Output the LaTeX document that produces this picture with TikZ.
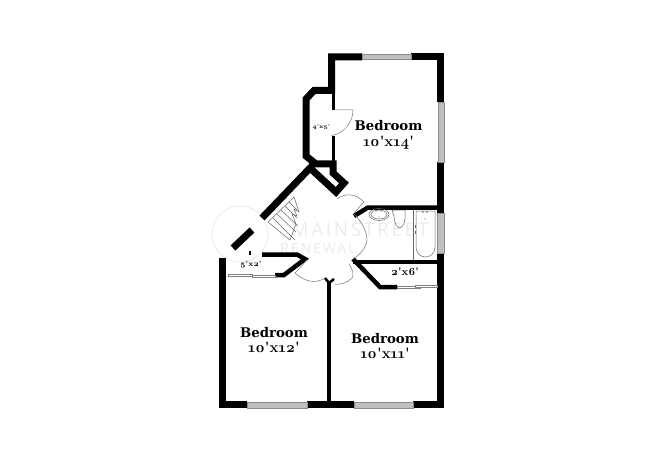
\documentclass[tikz,border=0pt]{standalone}
\usepackage{fontspec}
\newfontfamily\brandfont{Open Sans}[LetterSpace=14]
\newfontfamily\labelfont{DejaVu Serif}
\newfontfamily\sizefont{Latin Modern Roman}[Numbers=OldStyle]
\newcommand{\sq}{\textquotesingle}
\tikzset{
  wall/.style={line width=7pt,black},
  midwall/.style={line width=4.5pt,black},
  thinwall/.style={line width=3pt,black},
  swing/.style={line width=0.5pt,black!55},
  fixture/.style={line width=0.5pt,black!60},
  pane/.style={draw=black!45,fill=black!25,line width=0.6pt},
  slider/.style={draw=black!50,fill=white,line width=0.6pt},
  roomlabel/.style={align=center,font=\bfseries\fontsize{13.3}{15.5}\labelfont},
  faint/.style={black!8,font=\brandfont\fontsize{19}{19}\selectfont}
}
\newcommand{\roomsize}[1]{{\sizefont\bfseries\fontsize{15}{15.5}\selectfont #1}}
\begin{document}
\begin{tikzpicture}[x=1pt,y=-1pt]
\useasboundingbox (0,0) rectangle (650,473);
% watermark
\draw[black!7,line width=1pt] (240,234) circle (28);
\node[faint] (brand) at (360,229.5) {MAINSTREET};
\node[faint,font=\brandfont\fontsize{14}{14}\selectfont] (brandsub) at (318,248) {RENEWAL};
% outer walls
\draw[wall] (362,57) -- (331.5,57) -- (331.5,90.5) -- (314,90.5) -- (306,99) -- (306,156) -- (316,164) -- (333,164) -- (333,173) -- (344,183) -- (336,192) -- (310,168) -- (262,218);
\draw[wall] (411,57) -- (440.5,57) -- (440.5,102);
\draw[wall] (440.5,162) -- (440.5,213);
\draw[wall] (440.5,253) -- (440.5,408);
\draw[wall] (252,230) -- (233,248);
\draw[wall] (222.5,258) -- (222.5,404.5) -- (247,404.5);
\draw[wall] (307,404.5) -- (354,404.5);
\draw[wall] (413,404.5) -- (440.5,404.5);
% inner walls
\draw[thinwall] (333.5,90) -- (333.5,110);
\draw[thinwall] (333.5,136) -- (333.5,164);
\draw[midwall] (329,281) -- (329,404);
\draw[midwall] (440,207.5) -- (368,207.5) -- (354,216);
\draw[midwall] (440,262) -- (353,262);
\draw[midwall] (353,259) -- (380,287) -- (397,287);
\draw[midwall] (262,254.5) -- (297,254.5) -- (305,259) -- (284,275) -- (275,275);
\draw[line width=1.5pt] (250,251) -- (250,255);
\draw[line width=2.5pt] (325,278) -- (329,283) -- (334,279);
% windows
\filldraw[pane] (362,54) rectangle (411,59.5);
\filldraw[pane] (438,102) rectangle (444,162);
\filldraw[pane] (437,213) rectangle (444,253);
\filldraw[pane] (247,402) rectangle (307,408);
\filldraw[pane] (354,402) rectangle (413,408);
% sliding doors
\filldraw[slider] (228,274.5) rectangle (252,276.5);
\filldraw[slider] (252,275) rectangle (275,277);
\filldraw[slider] (397,286) rectangle (420,288);
\filldraw[slider] (415,285) rectangle (437,287);
% door swings
\draw[swing] (334,110) -- (353,110) arc[start angle=0,end angle=80,radius=26];
\draw[swing] (337,199) .. controls (345,193) and (355,193) .. (364,202) -- (354,213);
\draw[swing] (354,214) .. controls (362,222) and (367,232) .. (367,240) .. controls (366,248) and (360,255) .. (353,259);
\draw[swing] (349,264) .. controls (353,270) and (354,275) .. (352,278) .. controls (347,283) and (340,285) .. (335,284);
\draw[swing] (325,278) .. controls (316,284) and (305,282) .. (295,273) -- (307,260);
% stairs
\draw[fixture] (268,222) -- (294,197) -- (299,212) -- (294,209) -- (297,216) -- (292,214) -- (296,224) -- (290,240) -- cycle;
\draw[fixture] (273,218) -- (295,240);
\draw[fixture] (277,214) -- (296,232);
\draw[fixture] (281,210) -- (298,226);
\draw[fixture] (285,206) -- (297,218);
\draw[fixture] (289,202) -- (297,210);
% bath fixtures
\draw[fixture] (379,214.5) ellipse (10 and 6);
\draw[fixture] (379,214.5) ellipse (8 and 4.5);
\fill[black!60] (377,211) circle (0.7) (381,211) circle (0.7) (379,217) circle (0.7);
\draw[fixture] (392,210) -- (405,210) -- (405,218) .. controls (405,225) and (401,228) .. (399,228) .. controls (396,226) and (394,222) .. (394,216) -- cycle;
\draw[fixture] (413,210) -- (413,260);
\draw[fixture] (416,211) -- (435,211) -- (435,246) .. controls (435,254) and (430,257) .. (425.5,257) .. controls (421,257) and (416,254) .. (416,246) -- cycle;
\fill[black!60] (423,212) circle (0.8) (427,212) circle (0.8) (425,219) circle (0.7);
\draw[fixture,dashed] (415,225) -- (415,234);
% labels
\node[roomlabel] (bedroomA) at (388.5,135) {Bedroom\\\roomsize{10\sq x14\sq}};
\node[roomlabel] (bedroomB) at (274,340) {Bedroom\\\roomsize{10\sq x12\sq}};
\node[roomlabel] (bedroomC) at (385,346) {Bedroom\\\roomsize{10\sq x11\sq}};
\node[font=\sizefont\bfseries\fontsize{11}{12}\selectfont] (closetC) at (405,272) {2\sq x6\sq};
\node[font=\sizefont\bfseries\fontsize{7.5}{8}\selectfont] (closetB) at (251,264.5) {5\sq x2\sq};
\node[font=\sizefont\bfseries\fontsize{5.5}{6}\selectfont] (closetA) at (321.5,127) {4\sq x5\sq};
\end{tikzpicture}
\end{document}
